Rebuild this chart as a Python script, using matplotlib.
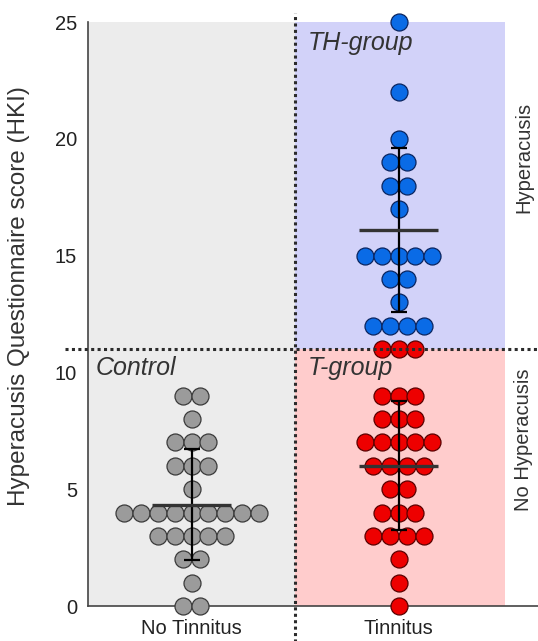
import numpy as np
import matplotlib
matplotlib.use('Agg')
import matplotlib.pyplot as plt

plt.rcParams['font.family'] = ['Liberation Sans', 'DejaVu Sans']

# scores
control_scores = [9, 9, 8, 7, 7, 7, 6, 6, 6, 5, 4, 4, 4, 4, 4, 4, 4, 4, 4,
                  3, 3, 3, 3, 3, 2, 2, 1, 0, 0]
t_scores = [11, 11, 11, 9, 9, 9, 8, 8, 8, 7, 7, 7, 7, 7, 6, 6, 6, 6, 5, 5,
            4, 4, 4, 3, 3, 3, 3, 2, 1, 0]
th_scores = [25, 22, 20, 19, 19, 18, 18, 17, 15, 15, 15, 15, 15, 14, 14, 13,
             12, 12, 12, 12]

categories = ['No Tinnitus', 'Tinnitus']
group_names = ['Control', 'T-group', 'TH-group']
group_pos = [0, 1, 1]
group_mean = [4.34, 6.0, 16.1]
group_sd = [2.36, 2.76, 3.5]
y_ticks = [0, 5, 10, 15, 20, 25]
cutoff = 11

fill_colors = ['#9b9b9b', '#ee0000', '#0a6be6']
edge_colors = ['#3a3a3a', '#5a0000', '#0a2560']
dark = '#2b2b2b'


def swarm_x(scores, center, step=0.081):
    scores = np.asarray(scores)
    xs = np.zeros(len(scores), dtype=float)
    for v in np.unique(scores):
        idx = np.where(scores == v)[0]
        n = len(idx)
        xs[idx] = center + (np.arange(n) - (n - 1) / 2) * step
    return xs


fig = plt.figure(figsize=(5.38, 6.41), dpi=100)
ax = fig.add_axes([88 / 538, 35 / 641, 450 / 538, 584 / 641])
ax.set_xlim(-0.5, -0.5 + 450 / 207)
ax.set_ylim(0, 25)

# background quadrants
ax.fill_between([-0.5, 0.5], 0, 25, color='#ececec', lw=0, zorder=0)
ax.fill_between([0.5, 1.515], cutoff, 25, color='#d2d2f9', lw=0, zorder=0)
ax.fill_between([0.5, 1.515], 0, cutoff, color='#ffcccc', lw=0, zorder=0)

for scores, pos, fc, ec in zip([control_scores, t_scores, th_scores],
                               group_pos, fill_colors, edge_colors):
    ax.scatter(swarm_x(scores, pos), scores, s=150, facecolor=fc,
               edgecolor=ec, linewidth=0.9, zorder=3, clip_on=False)

for pos, m, sd in zip(group_pos, group_mean, group_sd):
    ax.errorbar(pos, m, yerr=sd, fmt='none', ecolor='black', elinewidth=1.6,
                capsize=6, capthick=1.6, zorder=4)
    ax.plot([pos - 0.19, pos + 0.19], [m, m], color='#333333', lw=2.4,
            zorder=4, solid_capstyle='butt')

# dotted separators
ax.plot([0.5, 0.5], [-1.6, 25.4], color=dark, lw=2.2, ls=(0, (1, 1.1)),
        clip_on=False, zorder=5)
ax.plot([-0.61, 1.68], [cutoff, cutoff], color=dark, lw=2.2,
        ls=(0, (1, 1.1)), clip_on=False, zorder=5)

# group labels
label_xy = [(-0.465, 9.88), (0.56, 9.88), (0.56, 23.82)]
for name, (x, y) in zip(group_names, label_xy):
    ax.text(x, y, name, fontsize=18, style='italic', color='#333333',
            va='baseline', ha='left', zorder=6)

ax.text(1.56, 19.2, 'Hyperacusis', rotation=90, fontsize=14.5,
        color='#333333', ha='left', va='center', clip_on=False)
ax.text(1.56, 7.1, 'No Hyperacusis', rotation=90, fontsize=14.5,
        color='#333333', ha='left', va='center', clip_on=False)

ax.set_xticks(group_pos[:2])
ax.set_xticklabels(categories)
ax.set_yticks(y_ticks)
ax.tick_params(axis='both', length=0, labelsize=14.5, colors='#222222')
ax.tick_params(axis='x', pad=9)
ax.tick_params(axis='y', pad=8)

ax.set_ylabel('Hyperacusis Questionnaire score (HKI)', fontsize=17.5,
              color='#333333')
ax.yaxis.set_label_coords(-0.129, 0.53)

for side in ['top', 'right']:
    ax.spines[side].set_visible(False)
for side in ['left', 'bottom']:
    ax.spines[side].set_color('#444444')
    ax.spines[side].set_linewidth(1.2)

fig.savefig('out.png', dpi=100)
